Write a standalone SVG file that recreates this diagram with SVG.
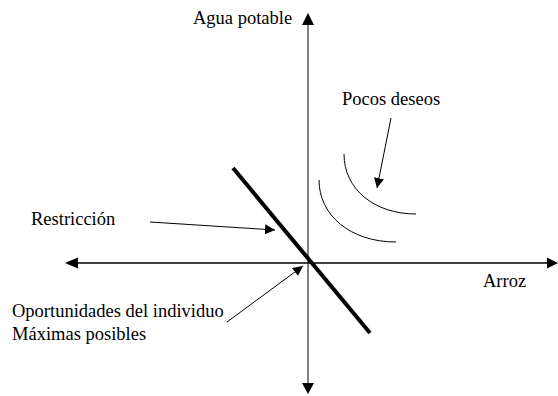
<svg xmlns="http://www.w3.org/2000/svg" width="558" height="396" viewBox="0 0 558 396">
<style>
text{font-family:'Liberation Serif','Times New Roman',serif;font-size:18.5px;fill:#000}
.ax{fill:none;stroke:#000;stroke-width:1.5}
.vax{fill:none;stroke:#808080;stroke-width:2}
.thin{fill:none;stroke:#000;stroke-width:1}
.thick{fill:none;stroke:#000;stroke-width:4}
.head{fill:#000}
</style>
<defs>
<marker id="ah" viewBox="0 0 10 10" refX="10" refY="5" markerWidth="10" markerHeight="10" markerUnits="userSpaceOnUse" orient="auto">
<path d="M0,0 L10,5 L0,10 z" fill="#000"/>
</marker>
</defs>
<rect width="558" height="396" fill="#fff"/>
<g id="connectors">
<line class="vax" x1="308" y1="24" x2="308" y2="385"/>
<path class="head" d="M308,13 L302,25 L314,25 z"/>
<path class="head" d="M308,394 L302,383 L314,383 z"/>
<line class="ax" x1="76" y1="263" x2="548" y2="263"/>
<path class="head" d="M65,263 L78,257.5 L78,268.5 z"/>
<path class="head" d="M558,263 L547,257.5 L547,268.5 z"/>
<line class="thick" x1="233" y1="168" x2="370" y2="333"/>
<line class="thin" x1="150" y1="222" x2="275" y2="230" marker-end="url(#ah)"/>
<line class="thin" x1="227" y1="322" x2="303" y2="266" marker-end="url(#ah)"/>
<line class="thin" x1="391" y1="118" x2="377" y2="188" marker-end="url(#ah)"/>
</g>
<g id="curves">
<path class="thin" d="M319,180 C319,215 350,242 396,242"/>
<path class="thin" d="M344,154 C344,189 374,214 416,214"/>
</g>
<g id="label-agua"><text x="193" y="24">Agua potable</text></g>
<g id="label-pocos"><text x="342" y="105">Pocos deseos</text></g>
<g id="label-restriccion"><text x="31" y="225">Restricción</text></g>
<g id="label-arroz"><text x="483" y="287">Arroz</text></g>
<g id="label-oportunidades"><text x="12" y="317">Oportunidades del individuo</text><text x="12" y="340">Máximas posibles</text></g>
</svg>
